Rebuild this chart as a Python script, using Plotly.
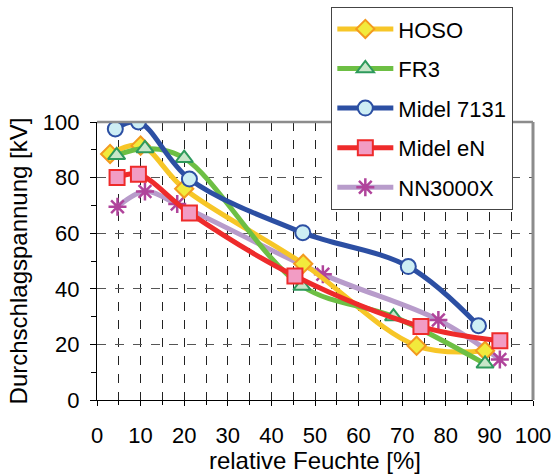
import plotly.graph_objects as go

# ---- data ----
hoso_x = [3, 10, 20, 47.3, 73.3, 89]
hoso_y = [88.5, 91.5, 76, 49, 19.5, 17.7]
fr3_x = [4.5, 11, 20, 47, 68, 89]
fr3_y = [88, 90.5, 87, 41, 30, 13]
m7131_x = [4.2, 9.5, 21.2, 47.2, 71.4, 87.5]
m7131_y = [97.5, 100, 79.5, 60.2, 48, 26.7]
men_x = [4.6, 9.5, 21.2, 45.4, 74.3, 92.4]
men_y = [80, 81.2, 67.3, 44.6, 26.4, 21.3]
nn_x = [4.7, 11, 18.4, 51.8, 78.3, 92.4]
nn_y = [69.5, 75, 70.5, 45.2, 28.8, 14.6]

# (legend rank, name, x, y, line colour, symbol, fill, outline, size)
series = [
    (5, "NN3000X", nn_x, nn_y, "#b89ccb", "asterisk-open", "#b0449b", "#b0449b", 15),
    (1, "HOSO", hoso_x, hoso_y, "#f7c627", "diamond", "#f2ea3c", "#f39a1f", 14),
    (2, "FR3", fr3_x, fr3_y, "#6dbf44", "triangle-up", "#c8e6c9", "#2e9a5c", 15),
    (3, "Midel 7131", m7131_x, m7131_y, "#2c4fa3", "circle", "#cdeef4", "#2c4fa3", 15),
    (4, "Midel eN", men_x, men_y, "#ee2b2b", "square", "#f29cc4", "#ee2b2b", 15),
]

fig = go.Figure()
for rank, name, xs, ys, lc, sym, fc, oc, sz in series:
    fig.add_trace(go.Scatter(
        x=xs, y=ys, name=name, mode="lines+markers",
        line=dict(color=lc, width=5, shape="spline", smoothing=1.0),
        marker=dict(symbol=sym, size=sz, color=fc,
                    line=dict(color=oc, width=2.5 if sym == "asterisk-open" else 2)),
        legendgroup=f"g{rank}", legendrank=rank,
    ))

font = "Liberation Sans, Arial, sans-serif"
fig.update_layout(
    width=555, height=475,
    margin=dict(l=97, r=22, t=122, b=75, autoexpand=False),
    paper_bgcolor="white", plot_bgcolor="white",
    font=dict(family=font, size=22, color="black"),
    showlegend=True,
    legend=dict(
        x=0.537, y=1.414, xanchor="left", yanchor="top",
        bgcolor="white", bordercolor="#444", borderwidth=1.2,
        font=dict(family=font, size=22, color="black"),
        traceorder="grouped", tracegroupgap=8, itemwidth=56,
    ),
    xaxis=dict(
        range=[0, 100], dtick=10, tick0=0, automargin=False,
        showline=True, linecolor="black", linewidth=1.2,
        ticks="outside", ticklen=5, tickcolor="black",
        showgrid=True, gridcolor="#222", griddash="dash", gridwidth=1,
        minor=dict(dtick=5, showgrid=True, gridcolor="#222", griddash="dash",
                   gridwidth=1, ticks="outside", ticklen=4, tickcolor="black"),
        zeroline=False,
        ticklabelstandoff=10,
        title=dict(text="relative Feuchte [%]", font=dict(size=24), standoff=2),
        tickfont=dict(size=22),
    ),
    yaxis=dict(
        range=[0, 100], dtick=20, tick0=0, automargin=False,
        showline=True, linecolor="black", linewidth=1.2,
        ticks="outside", ticklen=6, tickcolor="black",
        showgrid=True, gridcolor="#555", griddash="dash", gridwidth=1.2,
        minor=dict(dtick=10, ticks="outside", ticklen=5, tickcolor="black", showgrid=False),
        zeroline=False,
        ticklabelstandoff=6,
        title=dict(text="Durchschlagspannung [kV]", font=dict(size=24), standoff=8),
        tickfont=dict(size=22),
    ),
    shapes=[
        dict(type="line", xref="paper", yref="paper", x0=0, x1=1, y0=1, y1=1,
             line=dict(color="#8c8c8c", width=2.5)),
        dict(type="line", xref="paper", yref="paper", x0=1, x1=1, y0=0, y1=1,
             line=dict(color="#8c8c8c", width=3)),
    ],
)

fig.write_html("out.html")
